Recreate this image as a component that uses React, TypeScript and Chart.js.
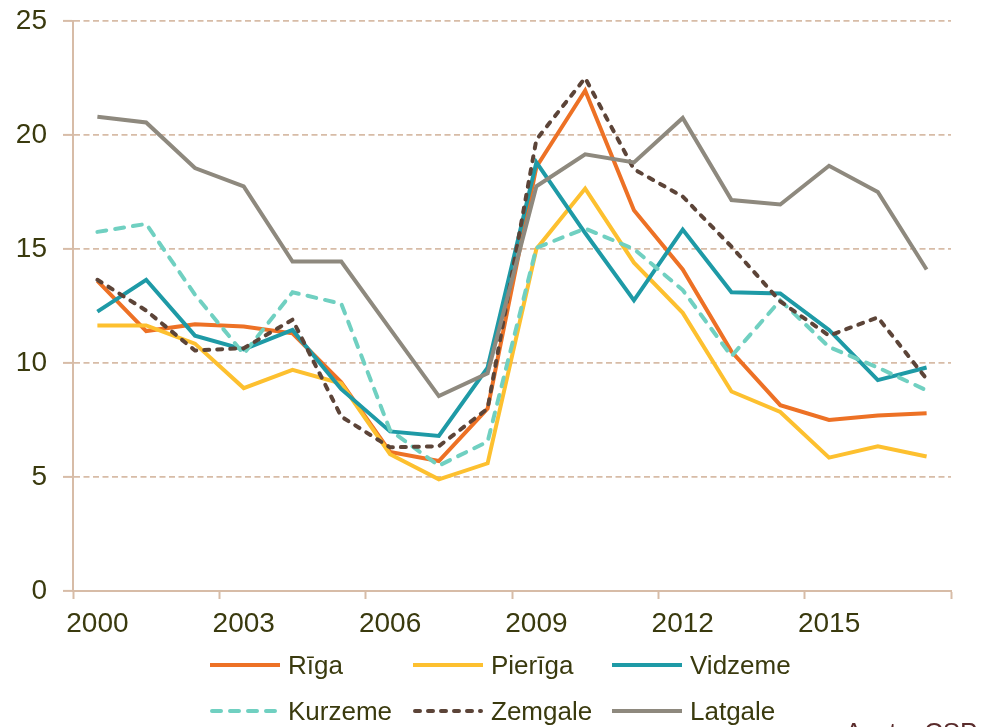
import React, { useEffect, useRef } from 'react';
import { Chart, registerables } from 'chart.js';

Chart.register(...registerables);

const years = ['2000', '2001', '2002', '2003', '2004', '2005', '2006', '2007', '2008', '2009', '2010', '2011', '2012', '2013', '2014', '2015', '2016', '2017'];

const riga = [13.6, 11.4, 11.7, 11.6, 11.3, 9.15, 6.1, 5.7, 8.0, 18.6, 21.95, 16.7, 14.1, 10.5, 8.15, 7.5, 7.7, 7.8];
const pieriga = [11.65, 11.65, 10.85, 8.9, 9.7, 9.1, 6.0, 4.9, 5.6, 15.0, 17.65, 14.4, 12.2, 8.75, 7.85, 5.85, 6.35, 5.9];
const vidzeme = [12.25, 13.65, 11.2, 10.6, 11.45, 8.85, 7.0, 6.8, 9.8, 18.8, 15.7, 12.75, 15.85, 13.1, 13.05, 11.45, 9.25, 9.8];
const kurzeme = [15.75, 16.1, 13.0, 10.4, 13.1, 12.6, 7.05, 5.5, 6.55, 15.05, 15.9, 15.0, 13.2, 10.3, 12.75, 10.7, 9.8, 8.8];
const zemgale = [13.65, 12.3, 10.55, 10.65, 11.9, 7.65, 6.3, 6.35, 8.0, 19.8, 22.5, 18.5, 17.3, 15.1, 12.7, 11.2, 12.0, 9.3];
const latgale = [20.8, 20.55, 18.55, 17.75, 14.45, 14.45, 11.5, 8.55, 9.55, 17.75, 19.15, 18.8, 20.75, 17.15, 16.95, 18.65, 17.5, 14.1];

const seriesNames = ['Rīga', 'Pierīga', 'Vidzeme', 'Kurzeme', 'Zemgale', 'Latgale'];
const seriesValues = [riga, pieriga, vidzeme, kurzeme, zemgale, latgale];
const seriesColors = ['#ED7125', '#FDC02F', '#1E9AA6', '#70D0C1', '#5C4438', '#8E897E'];
const seriesDashes: number[][] = [[], [], [], [9, 9], [5, 8], []];

const yTicks = [0, 5, 10, 15, 20, 25];
const sourceText = 'Avots: CSP';

const TEXT = '#3a3a0e';
const AXIS = '#d7bca7';
const FONT = "'Liberation Sans', Arial, sans-serif";

const legendPlugin = {
  id: 'gridLegend',
  afterDraw(chart: any) {
    const ctx = chart.ctx;
    const colX = [210, 413, 612];
    const lineY = [665, 711];
    ctx.save();
    chart.data.datasets.forEach((ds: any, i: number) => {
      const x = colX[i % 3];
      const y = lineY[Math.floor(i / 3)];
      const dash = ds.borderDash || [];
      ctx.beginPath();
      ctx.strokeStyle = ds.borderColor;
      ctx.lineWidth = 4;
      ctx.lineCap = dash.length ? 'round' : 'butt';
      ctx.setLineDash(dash);
      const inset = dash.length ? 2 : 0;
      ctx.moveTo(x + inset, y);
      ctx.lineTo(x + 70 - inset, y);
      ctx.stroke();
      ctx.setLineDash([]);
      ctx.fillStyle = TEXT;
      ctx.font = `26px ${FONT}`;
      ctx.textAlign = 'left';
      ctx.textBaseline = 'middle';
      ctx.fillText(ds.label, x + 78, y + 2);
    });
    ctx.fillStyle = '#5a2c2c';
    ctx.font = `26px ${FONT}`;
    ctx.textAlign = 'left';
    ctx.textBaseline = 'alphabetic';
    ctx.fillText(sourceText, 845, 741);
    ctx.restore();
  },
};

export default function App() {
  const ref = useRef<HTMLCanvasElement | null>(null);

  useEffect(() => {
    document.body.style.margin = '0';
    if (!ref.current) return;
    const chart = new Chart(ref.current, {
      type: 'line',
      data: {
        labels: years,
        datasets: seriesNames.map((name, i) => ({
          label: name,
          data: seriesValues[i],
          borderColor: seriesColors[i],
          backgroundColor: seriesColors[i],
          borderWidth: 4,
          borderDash: seriesDashes[i],
          borderCapStyle: seriesDashes[i].length ? 'round' : 'butt',
          pointRadius: 0,
          pointHoverRadius: 0,
          tension: 0,
          fill: false,
          order: seriesNames.length - i,
        })),
      },
      options: {
        responsive: false,
        animation: false,
        layout: { padding: { left: 0, right: 38, top: 21, bottom: 86 } },
        plugins: {
          legend: { display: false },
          tooltip: { enabled: false },
        },
        scales: {
          x: {
            type: 'category',
            offset: true,
            grid: {
              offset: true,
              drawOnChartArea: false,
              drawTicks: true,
              tickLength: 8,
              tickWidth: 2,
              color: AXIS,
              tickColor: (c: any) => (c.index === undefined || c.index % 3 === 0 ? AXIS : 'rgba(0,0,0,0)'),
            },
            border: { display: true, color: AXIS, width: 2 },
            ticks: {
              autoSkip: false,
              maxRotation: 0,
              minRotation: 0,
              padding: 8,
              color: TEXT,
              font: { size: 28, family: FONT },
              callback: (_v: any, i: number) => (i % 3 === 0 ? years[i] : ''),
            },
            afterFit: (s: any) => {
              s.height = 50;
            },
          },
          y: {
            min: yTicks[0],
            max: yTicks[yTicks.length - 1],
            afterBuildTicks: (s: any) => {
              s.ticks = yTicks.map((v) => ({ value: v }));
            },
            grid: {
              color: AXIS,
              lineWidth: 1.8,
              tickLength: 10,
              tickWidth: 2,
              tickColor: AXIS,
            },
            border: { display: true, color: AXIS, width: 2, dash: [6, 3.5] },
            ticks: {
              padding: 16,
              color: TEXT,
              font: { size: 28, family: FONT },
            },
            afterFit: (s: any) => {
              s.width = 73;
              s.paddingTop = 10;
              s.paddingBottom = 10;
            },
          },
        },
      },
      plugins: [legendPlugin],
    } as any);
    return () => chart.destroy();
  }, []);

  return <canvas ref={ref} width={989} height={727} style={{ display: 'block' }} />;
}
